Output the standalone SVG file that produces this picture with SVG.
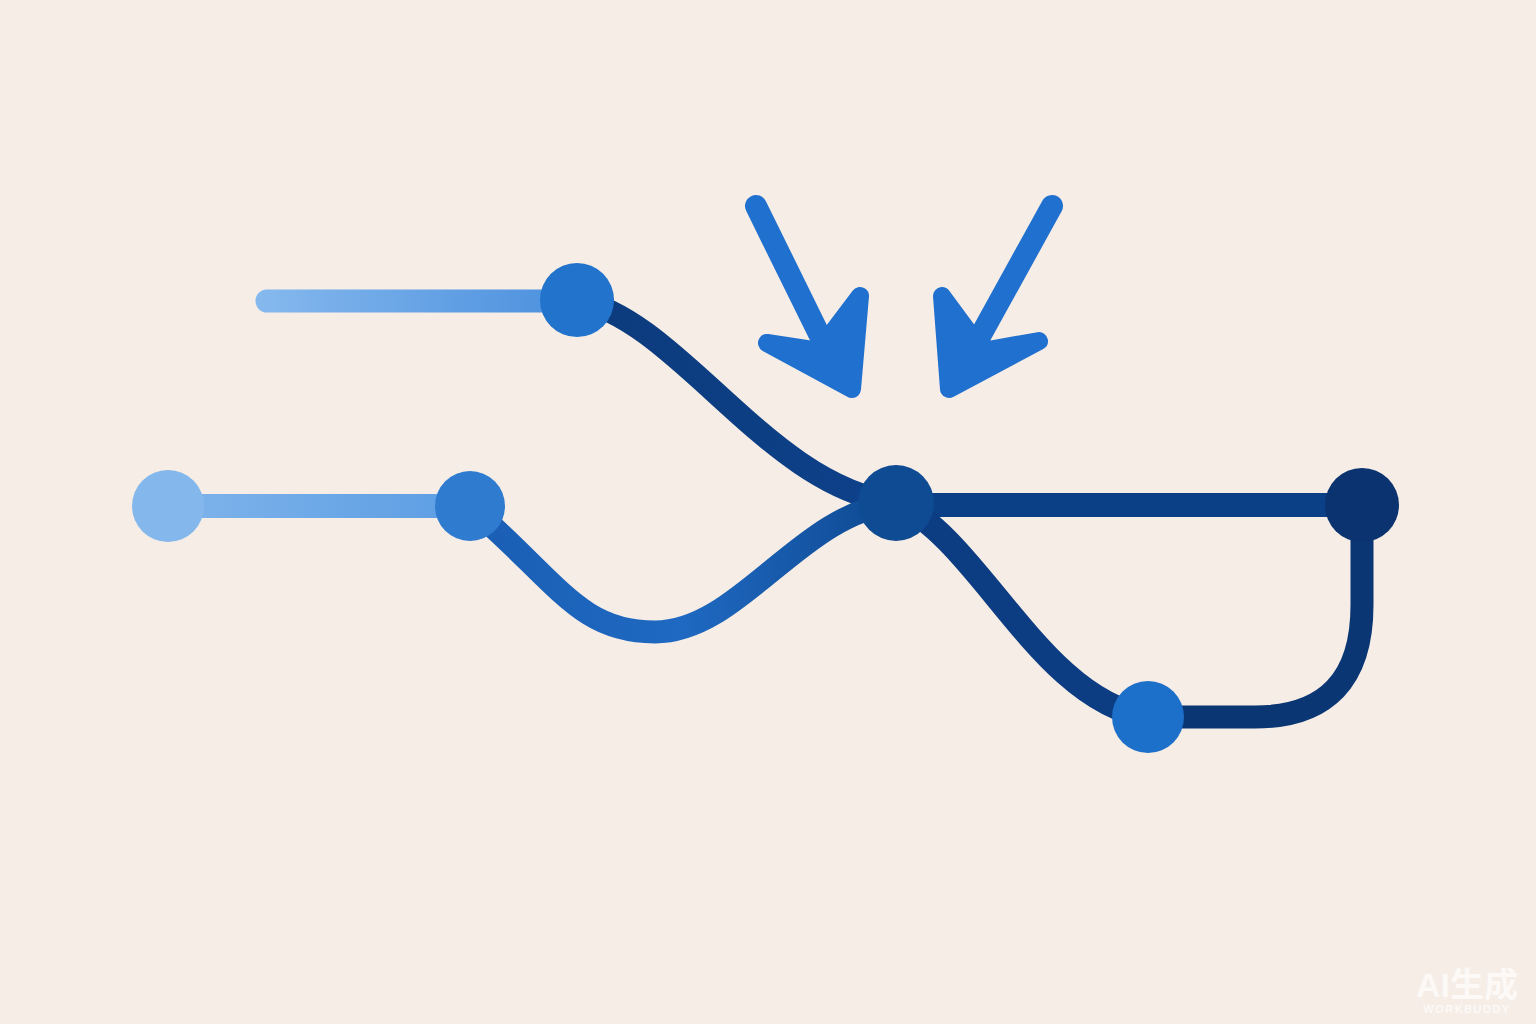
<svg xmlns="http://www.w3.org/2000/svg" width="1536" height="1024" viewBox="0 0 1536 1024">
  <defs>
    <linearGradient id="gTop" x1="255" y1="0" x2="577" y2="0" gradientUnits="userSpaceOnUse">
      <stop offset="0" stop-color="#86B9EE"/>
      <stop offset="1" stop-color="#4A8FDD"/>
    </linearGradient>
    <linearGradient id="gBot" x1="170" y1="0" x2="470" y2="0" gradientUnits="userSpaceOnUse">
      <stop offset="0" stop-color="#7FB4EB"/>
      <stop offset="1" stop-color="#5C9DE3"/>
    </linearGradient>
    <linearGradient id="gBD" x1="470" y1="0" x2="897" y2="0" gradientUnits="userSpaceOnUse">
      <stop offset="0" stop-color="#1A5EB4"/>
      <stop offset="0.5" stop-color="#1F69C2"/>
      <stop offset="1" stop-color="#0E4890"/>
    </linearGradient>
    <linearGradient id="gCD" x1="577" y1="0" x2="897" y2="0" gradientUnits="userSpaceOnUse">
      <stop offset="0" stop-color="#0C3B7C"/>
      <stop offset="1" stop-color="#0D418A"/>
    </linearGradient>
  </defs>
  <style>
    .bg { fill: #F5EDE6; }
    .edge { fill: none; stroke-linecap: round; stroke-linejoin: round; }
    .arrow { fill: #2070CF; stroke: #2070CF; stroke-linejoin: round; stroke-linecap: round; }
    .wm { font-family: "Liberation Sans", "Noto Sans CJK SC", sans-serif; fill: #FFFFFF; }
  </style>
  <rect class="bg" x="0" y="0" width="1536" height="1024"/>

  <g id="connectors">
    <line class="edge" x1="267" y1="301" x2="577" y2="301" stroke="url(#gTop)" stroke-width="23"/>
    <line class="edge" x1="170" y1="506" x2="470" y2="506" stroke="url(#gBot)" stroke-width="24"/>
    <path class="edge" d="M 577 300 C 680 320, 768 488, 897 503" stroke="url(#gCD)" stroke-width="23"/>
    <path class="edge" d="M 470 506 C 560 585, 580 632, 655 632 C 740 632, 800 512, 897 503" stroke="url(#gBD)" stroke-width="23"/>
    <line class="edge" x1="897" y1="505" x2="1362" y2="505" stroke="#0B3F86" stroke-width="24"/>
    <path class="edge" d="M 897 503 C 980 540, 1040 700, 1148 717" stroke="#0C3D82" stroke-width="24"/>
    <path class="edge" d="M 1148 717 L 1255 717 Q 1362 717 1362 605 L 1362 505" stroke="#0A3774" stroke-width="23"/>
  </g>

  <g id="arrows">
    <g id="arrow-left">
      <line class="arrow" x1="756" y1="206" x2="822" y2="340" stroke-width="22"/>
      <polygon class="arrow" points="767,343 813,350 829,337 860,296 852,389" stroke-width="18"/>
    </g>
    <g id="arrow-right">
      <line class="arrow" x1="1052" y1="206" x2="978" y2="340" stroke-width="22"/>
      <polygon class="arrow" points="942,296 973,338 988,350 1039,341 949,389" stroke-width="18"/>
    </g>
  </g>

  <g id="node-a"><circle cx="168" cy="506" r="36" fill="#84B7EC"/></g>
  <g id="node-b"><circle cx="470" cy="506" r="35" fill="#2E7BD0"/></g>
  <g id="node-c"><circle cx="577" cy="300" r="37" fill="#2273CB"/></g>
  <g id="node-d"><circle cx="896" cy="503" r="38" fill="#0E4B92"/></g>
  <g id="node-e"><circle cx="1362" cy="505" r="37" fill="#0B336F"/></g>
  <g id="node-f"><circle cx="1148" cy="717" r="36" fill="#1D70CA"/></g>

  <g id="watermark" opacity="0.7">
    <text class="wm" x="1467" y="997" font-size="34" font-weight="bold" text-anchor="middle">AI生成</text>
    <text class="wm" x="1467" y="1013" font-size="11" font-weight="bold" text-anchor="middle" letter-spacing="1.5">WORKBUDDY</text>
  </g>
</svg>
